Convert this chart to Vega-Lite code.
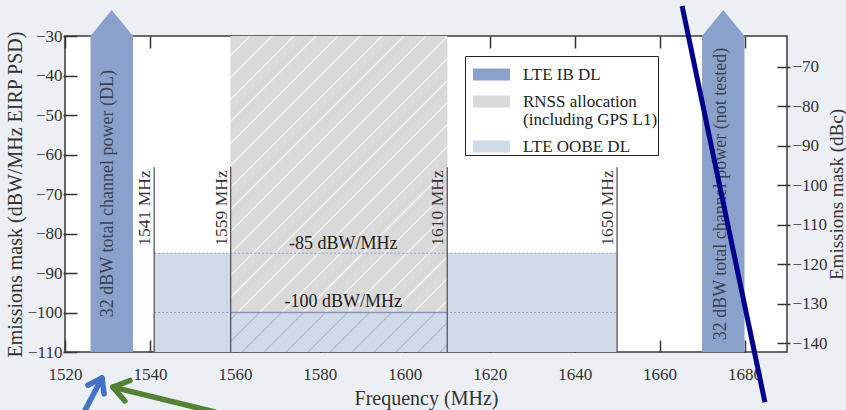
{
"$schema":"https://vega.github.io/schema/vega-lite/v6.json",
"width":722,"height":316,"autosize":"none",
"padding":{"left":65,"top":36,"right":59,"bottom":58},
"background":"#eceff4",
"config":{
 "font":"Liberation Serif",
 "view":{"stroke":"#3a3a3a","strokeWidth":1.5,"fill":"white"},
 "axis":{"labelFont":"Liberation Serif","labelFontSize":17,"labelColor":"#333","titleFont":"Liberation Serif","titleFontSize":20,"titleFontWeight":"normal","titleColor":"#333","tickColor":"#333","tickWidth":1.5,"grid":false,"domain":false,"labelFlush":false},
 "legend":{"orient":"none","legendX":400,"legendY":20,"symbolType":"M-1,-0.32H1V0.32H-1Z","symbolSize":1369,"symbolStrokeWidth":0,"symbolOpacity":1,"symbolOffset":8,"labelFont":"Liberation Serif","labelFontSize":17,"labelColor":"#222","labelOffset":13,"padding":0,"rowPadding":0,"strokeColor":"#222","fillColor":"white","labelLimit":300}
},
"datasets":{
 "bands":[
  {"band":"LTE OOBE DL","x":1541,"x2":1559,"y":-110,"y2":-85},
  {"band":"LTE OOBE DL","x":1559,"x2":1610,"y":-110,"y2":-100},
  {"band":"LTE OOBE DL","x":1610,"x2":1650,"y":-110,"y2":-85},
  {"band":"RNSS allocation","x":1559,"x2":1610,"y":-100,"y2":-30}
 ],
 "arrows":[
  {"id":"L","x":1526,"y":-30,"y2":-110},
  {"id":"L","x":1531,"y":-23.4,"y2":-110},
  {"id":"L","x":1536,"y":-30,"y2":-110},
  {"id":"R","x":1670,"y":-30,"y2":-110},
  {"id":"R","x":1675,"y":-23.4,"y2":-110},
  {"id":"R","x":1680,"y":-30,"y2":-110}
 ],
 "edges":[
  {"f":1541,"base":-110,"top":-63.2,"ty":-64,"label":"1541 MHz"},
  {"f":1559,"base":-110,"top":-63.2,"ty":-64,"label":"1559 MHz"},
  {"f":1610,"base":-110,"top":-63.2,"ty":-64,"label":"1610 MHz"},
  {"f":1650,"base":-110,"top":-63.2,"ty":-64,"label":"1650 MHz"}
 ],
 "levels":[
  {"level":-85,"x":1541,"x2":1650,"lx":1585.5,"ly":-83.9,"label":"-85 dBW/MHz"},
  {"level":-100,"x":1541,"x2":1650,"lx":1585.5,"ly":-98.6,"label":"-100 dBW/MHz"}
 ],
 "solid":[{"level":-100,"x":1559,"x2":1610}],
 "arrowText":[
  {"x":1530.2,"y":-69.9,"text":"32 dBW total channel power (DL)"},
  {"x":1674.4,"y":-70,"text":"32 dBW total channel power (not tested)"}
 ],
 "annot":[
  {"g":"navy","x":1665.3,"y":-22.4,"x2":1684.8,"y2":-122.7},
  {"g":"blue","x":1528.7,"y":-116.6,"x2":1524.5,"y2":-125.2},
  {"g":"blue","x":1528.7,"y":-116.6,"x2":1525.4,"y2":-118.4},
  {"g":"blue","x":1528.7,"y":-116.6,"x2":1529.2,"y2":-120.6},
  {"g":"green","x":1531.3,"y":-118.9,"x2":1555.3,"y2":-125.2},
  {"g":"green","x":1531.3,"y":-118.9,"x2":1534.1,"y2":-122.4},
  {"g":"green","x":1531.3,"y":-118.9,"x2":1535.3,"y2":-117.2}
 ],
 "rightAxis":[{"x":1520,"r":-142.2},{"x":1690,"r":-62.2}]
},
"layer":[
  {"data":{"name":"bands"},"mark":{"type":"rect"},
   "encoding":{
    "x":{"field":"x","type":"quantitative","scale":{"domain":[1520,1690],"nice":false,"zero":false},
         "axis":{"orient":"bottom","title":"Frequency (MHz)","values":[1520,1540,1560,1580,1600,1620,1640,1660,1680],"format":"d","offset":-12,"tickSize":12,"labelPadding":14,"titlePadding":6}},
    "x2":{"field":"x2"},
    "y":{"field":"y","type":"quantitative","scale":{"domain":[-110,-30],"nice":false,"zero":false},
         "axis":{"orient":"left","title":"Emissions mask (dBW/MHz EIRP PSD)","values":[-110,-100,-90,-80,-70,-60,-50,-40,-30],"format":"d","offset":-12,"tickSize":14,"labelPadding":1,"titlePadding":1}},
    "y2":{"field":"y2"},
    "color":{"field":"band","type":"nominal",
      "scale":{"domain":["LTE IB DL","RNSS allocation","LTE OOBE DL"],"range":["#8aa2cb","#d9d9d9","#d0dae9"]},
      "legend":{"title":null,"labelExpr":"datum.label == 'RNSS allocation' ? ['RNSS allocation','(including GPS L1)\u00a0\u00a0\u00a0'] : datum.label",
                "encode":{"labels":{"update":{"lineHeight":{"value":18}}}}}}
   }},
  {"data":{"name":"bands"},"transform":[{"filter":"datum.band == 'RNSS allocation'"}],
   "mark":{"type":"rect","fill":{"gradient":"linear","x1":0,"y1":0,"x2":1,"y2":1.2765,"stops":[
    {"offset":0,"color":"#d9d9d9"},
    {"offset":0.03055,"color":"#d9d9d9"},{"offset":0.03406,"color":"#f4f4f4"},{"offset":0.03757,"color":"#d9d9d9"},
    {"offset":0.06917,"color":"#d9d9d9"},{"offset":0.07268,"color":"#f4f4f4"},{"offset":0.07619,"color":"#d9d9d9"},
    {"offset":0.10780,"color":"#d9d9d9"},{"offset":0.11131,"color":"#f4f4f4"},{"offset":0.11482,"color":"#d9d9d9"},
    {"offset":0.14642,"color":"#d9d9d9"},{"offset":0.14993,"color":"#f4f4f4"},{"offset":0.15344,"color":"#d9d9d9"},
    {"offset":0.18505,"color":"#d9d9d9"},{"offset":0.18856,"color":"#f4f4f4"},{"offset":0.19207,"color":"#d9d9d9"},
    {"offset":0.22367,"color":"#d9d9d9"},{"offset":0.22718,"color":"#f4f4f4"},{"offset":0.23069,"color":"#d9d9d9"},
    {"offset":0.26229,"color":"#d9d9d9"},{"offset":0.26580,"color":"#f4f4f4"},{"offset":0.26931,"color":"#d9d9d9"},
    {"offset":0.30092,"color":"#d9d9d9"},{"offset":0.30443,"color":"#f4f4f4"},{"offset":0.30794,"color":"#d9d9d9"},
    {"offset":0.33954,"color":"#d9d9d9"},{"offset":0.34305,"color":"#f4f4f4"},{"offset":0.34656,"color":"#d9d9d9"},
    {"offset":0.37817,"color":"#d9d9d9"},{"offset":0.38168,"color":"#f4f4f4"},{"offset":0.38519,"color":"#d9d9d9"},
    {"offset":0.41679,"color":"#d9d9d9"},{"offset":0.42030,"color":"#f4f4f4"},{"offset":0.42381,"color":"#d9d9d9"},
    {"offset":0.45542,"color":"#d9d9d9"},{"offset":0.45893,"color":"#f4f4f4"},{"offset":0.46244,"color":"#d9d9d9"},
    {"offset":0.49404,"color":"#d9d9d9"},{"offset":0.49755,"color":"#f4f4f4"},{"offset":0.50106,"color":"#d9d9d9"},
    {"offset":0.53267,"color":"#d9d9d9"},{"offset":0.53618,"color":"#f4f4f4"},{"offset":0.53969,"color":"#d9d9d9"},
    {"offset":0.57129,"color":"#d9d9d9"},{"offset":0.57480,"color":"#f4f4f4"},{"offset":0.57831,"color":"#d9d9d9"},
    {"offset":0.60991,"color":"#d9d9d9"},{"offset":0.61342,"color":"#f4f4f4"},{"offset":0.61693,"color":"#d9d9d9"},
    {"offset":0.64854,"color":"#d9d9d9"},{"offset":0.65205,"color":"#f4f4f4"},{"offset":0.65556,"color":"#d9d9d9"},
    {"offset":0.68716,"color":"#d9d9d9"},{"offset":0.69067,"color":"#f4f4f4"},{"offset":0.69418,"color":"#d9d9d9"},
    {"offset":0.72579,"color":"#d9d9d9"},{"offset":0.72930,"color":"#f4f4f4"},{"offset":0.73281,"color":"#d9d9d9"},
    {"offset":0.76441,"color":"#d9d9d9"},{"offset":0.76792,"color":"#f4f4f4"},{"offset":0.77143,"color":"#d9d9d9"},
    {"offset":0.80304,"color":"#d9d9d9"},{"offset":0.80655,"color":"#f4f4f4"},{"offset":0.81006,"color":"#d9d9d9"},
    {"offset":0.84166,"color":"#d9d9d9"},{"offset":0.84517,"color":"#f4f4f4"},{"offset":0.84868,"color":"#d9d9d9"},
    {"offset":1,"color":"#d9d9d9"}]}},
   "encoding":{
    "x":{"field":"x","type":"quantitative","scale":{"domain":[1520,1690],"nice":false,"zero":false},"axis":null},
    "x2":{"field":"x2"},
    "y":{"field":"y","type":"quantitative","scale":{"domain":[-110,-30],"nice":false,"zero":false},"axis":null},
    "y2":{"field":"y2"}
   }},
  {"data":{"name":"bands"},"transform":[{"filter":"datum.band == 'LTE OOBE DL' && datum.x == 1559"}],
   "mark":{"type":"rect","fill":{"gradient":"linear","x1":0,"y1":0,"x2":2,"y2":0.3647,"stops":[
    {"offset":0,"color":"#d0dae9"},
    {"offset":0.01207,"color":"#d0dae9"},{"offset":0.01542,"color":"#aeb8c8"},{"offset":0.01877,"color":"#d0dae9"},
    {"offset":0.06122,"color":"#d0dae9"},{"offset":0.06457,"color":"#aeb8c8"},{"offset":0.06792,"color":"#d0dae9"},
    {"offset":0.11037,"color":"#d0dae9"},{"offset":0.11372,"color":"#aeb8c8"},{"offset":0.11707,"color":"#d0dae9"},
    {"offset":0.15952,"color":"#d0dae9"},{"offset":0.16287,"color":"#aeb8c8"},{"offset":0.16622,"color":"#d0dae9"},
    {"offset":0.20867,"color":"#d0dae9"},{"offset":0.21202,"color":"#aeb8c8"},{"offset":0.21537,"color":"#d0dae9"},
    {"offset":0.25783,"color":"#d0dae9"},{"offset":0.26118,"color":"#aeb8c8"},{"offset":0.26453,"color":"#d0dae9"},
    {"offset":0.30698,"color":"#d0dae9"},{"offset":0.31033,"color":"#aeb8c8"},{"offset":0.31368,"color":"#d0dae9"},
    {"offset":0.35613,"color":"#d0dae9"},{"offset":0.35948,"color":"#aeb8c8"},{"offset":0.36283,"color":"#d0dae9"},
    {"offset":0.40528,"color":"#d0dae9"},{"offset":0.40863,"color":"#aeb8c8"},{"offset":0.41198,"color":"#d0dae9"},
    {"offset":0.45443,"color":"#d0dae9"},{"offset":0.45778,"color":"#aeb8c8"},{"offset":0.46113,"color":"#d0dae9"},
    {"offset":0.50358,"color":"#d0dae9"},{"offset":0.50693,"color":"#aeb8c8"},{"offset":0.51028,"color":"#d0dae9"},
    {"offset":0.55273,"color":"#d0dae9"},{"offset":0.55608,"color":"#aeb8c8"},{"offset":0.55943,"color":"#d0dae9"},
    {"offset":1,"color":"#d0dae9"}]}},
   "encoding":{
    "x":{"field":"x","type":"quantitative","scale":{"domain":[1520,1690],"nice":false,"zero":false},"axis":null},
    "x2":{"field":"x2"},
    "y":{"field":"y","type":"quantitative","scale":{"domain":[-110,-30],"nice":false,"zero":false},"axis":null},
    "y2":{"field":"y2"}
   }},
  {"data":{"name":"arrows"},"mark":{"type":"area","color":"#8aa2cb","opacity":1},
   "encoding":{
    "x":{"field":"x","type":"quantitative","scale":{"domain":[1520,1690],"nice":false,"zero":false},"axis":null},
    "y":{"field":"y","type":"quantitative","scale":{"domain":[-110,-30],"nice":false,"zero":false},"axis":null},
    "y2":{"field":"y2"},
    "detail":{"field":"id"}
   }},
  {"data":{"name":"levels"},"mark":{"type":"rule","color":"#8a9ec6","strokeWidth":1.2,"strokeDash":[2,2]},
   "encoding":{
    "x":{"field":"x","type":"quantitative","scale":{"domain":[1520,1690],"nice":false,"zero":false},"axis":null},
    "x2":{"field":"x2"},
    "y":{"field":"level","type":"quantitative","scale":{"domain":[-110,-30],"nice":false,"zero":false},"axis":null}
   }},
  {"data":{"name":"solid"},"mark":{"type":"rule","color":"#8596bb","strokeWidth":1.3},
   "encoding":{
    "x":{"field":"x","type":"quantitative","scale":{"domain":[1520,1690],"nice":false,"zero":false},"axis":null},
    "x2":{"field":"x2"},
    "y":{"field":"level","type":"quantitative","scale":{"domain":[-110,-30],"nice":false,"zero":false},"axis":null}
   }},
  {"data":{"name":"edges"},"mark":{"type":"rule","color":"#555","strokeWidth":1.3},
   "encoding":{
    "x":{"field":"f","type":"quantitative","scale":{"domain":[1520,1690],"nice":false,"zero":false},"axis":null},
    "y":{"field":"base","type":"quantitative","scale":{"domain":[-110,-30],"nice":false,"zero":false},"axis":null},
    "y2":{"field":"top"}
   }},
  {"data":{"name":"edges"},"mark":{"type":"text","angle":270,"align":"right","baseline":"bottom","font":"Liberation Serif","fontSize":17.5,"color":"#333"},
   "encoding":{
    "x":{"field":"f","type":"quantitative","scale":{"domain":[1520,1690],"nice":false,"zero":false},"axis":null},
    "y":{"field":"ty","type":"quantitative","scale":{"domain":[-110,-30],"nice":false,"zero":false},"axis":null},
    "text":{"field":"label"}
   }},
  {"data":{"name":"levels"},"mark":{"type":"text","align":"center","baseline":"alphabetic","font":"Liberation Serif","fontSize":18,"color":"#222"},
   "encoding":{
    "x":{"field":"lx","type":"quantitative","scale":{"domain":[1520,1690],"nice":false,"zero":false},"axis":null},
    "y":{"field":"ly","type":"quantitative","scale":{"domain":[-110,-30],"nice":false,"zero":false},"axis":null},
    "text":{"field":"label"}
   }},
  {"data":{"name":"arrowText"},"mark":{"type":"text","angle":270,"align":"center","baseline":"middle","font":"Liberation Serif","fontSize":18,"color":"#3b4151"},
   "encoding":{
    "x":{"field":"x","type":"quantitative","scale":{"domain":[1520,1690],"nice":false,"zero":false},"axis":null},
    "y":{"field":"y","type":"quantitative","scale":{"domain":[-110,-30],"nice":false,"zero":false},"axis":null},
    "text":{"field":"text"}
   }},
  {"data":{"name":"annot"},"transform":[{"filter":"datum.g == 'navy'"}],"mark":{"type":"rule","color":"#00008b","strokeWidth":5,"strokeCap":"butt"},
   "encoding":{
    "x":{"field":"x","type":"quantitative","scale":{"domain":[1520,1690],"nice":false,"zero":false},"axis":null},
    "x2":{"field":"x2"},
    "y":{"field":"y","type":"quantitative","scale":{"domain":[-110,-30],"nice":false,"zero":false},"axis":null},
    "y2":{"field":"y2"}
   }},
  {"data":{"name":"annot"},"transform":[{"filter":"datum.g == 'blue'"}],"mark":{"type":"rule","color":"#4472c4","strokeWidth":5.5,"strokeCap":"round"},
   "encoding":{
    "x":{"field":"x","type":"quantitative","scale":{"domain":[1520,1690],"nice":false,"zero":false},"axis":null},
    "x2":{"field":"x2"},
    "y":{"field":"y","type":"quantitative","scale":{"domain":[-110,-30],"nice":false,"zero":false},"axis":null},
    "y2":{"field":"y2"}
   }},
  {"data":{"name":"annot"},"transform":[{"filter":"datum.g == 'green'"}],"mark":{"type":"rule","color":"#548235","strokeWidth":5.5,"strokeCap":"round"},
   "encoding":{
    "x":{"field":"x","type":"quantitative","scale":{"domain":[1520,1690],"nice":false,"zero":false},"axis":null},
    "x2":{"field":"x2"},
    "y":{"field":"y","type":"quantitative","scale":{"domain":[-110,-30],"nice":false,"zero":false},"axis":null},
    "y2":{"field":"y2"}
   }},
  {"data":{"name":"rightAxis"},"mark":{"type":"point","opacity":0},
   "encoding":{
    "x":{"field":"x","type":"quantitative","scale":{"domain":[1520,1690],"nice":false,"zero":false},
         "axis":{"orient":"top","title":null,"labels":false,"values":[1520,1540,1560,1580,1600,1620,1640,1660,1680],"offset":-12,"tickSize":12}},
    "y":{"field":"r","type":"quantitative","scale":{"domain":[-142.2,-62.2],"nice":false,"zero":false},
         "axis":{"orient":"right","title":"Emissions mask (dBc)","values":[-140,-130,-120,-110,-100,-90,-80,-70],"format":"d","offset":-10,"tickSize":13,"labelPadding":2,"titlePadding":0,"titleAngle":270,"titleBaseline":"top","titleFontSize":19}}
   }}
],
"resolve":{"scale":{"y":"independent"},"axis":{"x":"independent","y":"independent"}}
}
